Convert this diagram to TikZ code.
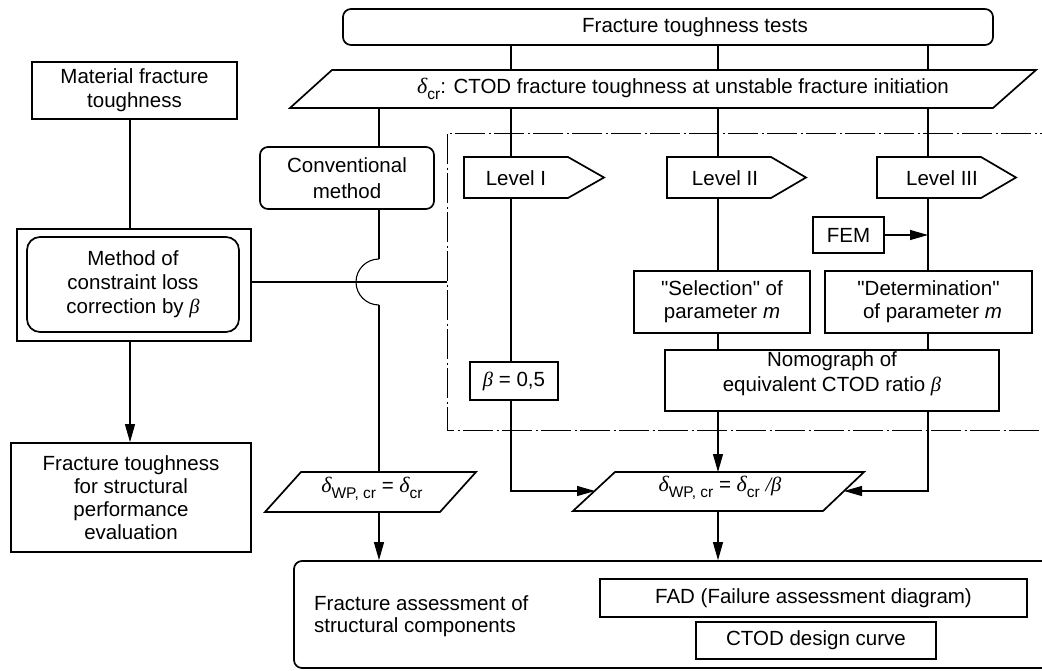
\documentclass[tikz,border=0pt]{standalone}
\usepackage{fontspec}
\setmainfont{Liberation Sans}
\newfontfamily\grkfont{Liberation Serif}
\newfontfamily\plainfont{Liberation Sans}
\usetikzlibrary{arrows.meta,backgrounds}
\newcommand\mydelta{{\grkfont\itshape\fontsize{22}{24}\selectfont δ}}
\newcommand\mybeta{{\grkfont\itshape β}}
\newcommand\mysub[1]{\raisebox{-6.5pt}{\fontsize{15.5}{16}\selectfont #1}}
\newcommand\dq{{\plainfont"}}
\begin{document}
\begin{tikzpicture}[x=1pt,y=-1pt,
  every node/.style={font=\fontsize{20.5}{24}\selectfont, inner sep=0pt, align=center},
  box/.style={draw, line width=1.7pt, fill=white},
  rbox/.style={box, rounded corners=8pt},
  shp/.style={draw, line width=1.7pt, fill=white, line join=miter},
  conn/.style={line width=1.1pt},
  arr/.style={conn, -{Triangle[length=18pt,width=10pt]}},
  dd/.style={line width=1pt, dash pattern=on 30pt off 3.5pt on 2pt off 3.5pt}
]
\useasboundingbox (0,0) rectangle (1042,670);
\begin{scope}
\clip (0,0) rectangle (1042,670);
% dash-dot frame
\draw[dd] (1070,133) -- (447,133) -- (447,430) -- (1070,430);
% top
\node[rbox, minimum width=650pt, minimum height=36pt] (tests) at (668,27) {\hspace*{54pt}Fracture toughness tests};
\path[shp] (332,70) -- (1036,70) -- (993,108) -- (290,108) -- cycle;
\node (crit) at (683,89) {\mydelta\mysub{cr}: CTOD fracture toughness at unstable fracture initiation};
% left column
\node[box, minimum width=205pt, minimum height=57pt] (mat) at (134.5,90.5) {Material fracture\\toughness};
\node[box, minimum width=234pt, minimum height=112pt] (meth) at (134,285) {};
\node[rbox, rounded corners=13pt, minimum width=212pt, minimum height=95pt, font=\fontsize{20.5}{24}\selectfont] (methin) at (133,284.5) {Method of\\constraint loss\\correction by \mybeta};
\node[box, minimum width=240pt, minimum height=109pt, font=\fontsize{20.5}{23}\selectfont] (eval) at (131,497.5) {Fracture toughness\\for structural\\performance\\evaluation};
\node[rbox, minimum width=174pt, minimum height=62pt, font=\fontsize{20.5}{26}\selectfont] (conv) at (347,178) {Conventional\\method};
% levels
\path[shp] (464,157) -- (568,157) -- (604,177.5) -- (568,198) -- (464,198) -- cycle;
\node (lvI) at (516,178) {Level I};
\path[shp] (667,157) -- (771,157) -- (806,177.5) -- (771,198) -- (667,198) -- cycle;
\node (lvII) at (725,178) {Level II};
\path[shp] (877,157) -- (981,157) -- (1016,177.5) -- (981,198) -- (877,198) -- cycle;
\node (lvIII) at (942,178) {Level III};
\node[box, minimum width=71pt, minimum height=36pt] (fem) at (848.5,235) {FEM};
\node[box, minimum width=176pt, minimum height=62pt, font=\fontsize{20.5}{23}\selectfont] (sel) at (722,302) {\dq Selection\dq\ of\\parameter \textit{m}};
\node[box, minimum width=207pt, minimum height=62pt, font=\fontsize{20.5}{23}\selectfont] (det) at (928.5,302) {\dq Determination\dq\\\hspace*{8pt}of parameter \textit{m}};
\node[box, minimum width=334pt, minimum height=61pt, font=\fontsize{20.5}{25}\selectfont] (nomo) at (832,380.5) {Nomograph of\\equivalent CTOD ratio \mybeta\\[-8pt]};
\node[box, minimum width=88pt, minimum height=38pt] (beta) at (514,381) {\mybeta\ = 0,5};
% result parallelograms
\path[shp] (301,472) -- (476,472) -- (440,512) -- (265,512) -- cycle;
\node (wpl) at (372,489) {\mydelta\mysub{WP, cr} = \mydelta\mysub{cr}};
\path[shp] (615,472) -- (864,472) -- (823,511) -- (573,511) -- cycle;
\node (wpr) at (720,488) {\mydelta\mysub{WP, cr} = \mydelta\mysub{cr} {\grkfont\itshape /β}};
% bottom
\node[rbox, minimum width=766pt, minimum height=107pt] (bot) at (677,614.5) {};
\node[anchor=west, align=left, font=\fontsize{20.5}{22}\selectfont] (fa) at (314,616) {Fracture assessment of\\structural components};
\node[box, minimum width=427pt, minimum height=38pt] (fad) at (813.5,598) {FAD (Failure assessment diagram)};
\node[box, minimum width=240pt, minimum height=37pt] (ctod) at (816,640.5) {CTOD design curve};
\end{scope}
% connectors
\coordinate (cI) at (511,0);
\coordinate (cII) at (718,0);
\coordinate (cIII) at (928,0);
\coordinate (cC) at (379,0);
\coordinate (cL) at (130,0);
\coordinate (pB) at (0,108);
\coordinate (jy) at (0,282);
\coordinate (ddL) at (447,0);
\coordinate (resW) at (595,491);
\coordinate (resE) at (844,491);
\coordinate (resN) at (718,472);
\coordinate (resS) at (718,511);
\coordinate (wplN) at (379,472);
\coordinate (wplS) at (379,512);
\coordinate (jT) at (379,259);
\coordinate (jB) at (379,305);
\begin{pgfonlayer}{background}
\draw[conn] (tests.south -| cI) -- (beta.north -| cI);
\draw[arr] (beta.south -| cI) |- (resW);
\draw[conn] (tests.south -| cII) -- (sel.north -| cII);
\draw[conn] (sel.south -| cII) -- (nomo.north -| cII);
\draw[arr] (nomo.south -| cII) -- (resN);
\draw[arr] (resS) -- (bot.north -| cII);
\draw[conn] (tests.south -| cIII) -- (det.north -| cIII);
\draw[conn] (det.south -| cIII) -- (nomo.north -| cIII);
\draw[arr] (nomo.south -| cIII) |- (resE);
\draw[arr] (fem.east) -- (fem.east -| cIII);
\draw[conn] (pB -| cC) -- (conv.north -| cC);
\draw[conn] (conv.south -| cC) -- (jT);
\draw[conn] (jT) .. controls (366.3,259) and (356,269.3) .. (356,282) .. controls (356,294.7) and (366.3,305) .. (jB);
\draw[conn] (jB) -- (wplN);
\draw[arr] (wplS) -- (bot.north -| cC);
\draw[conn] (mat.south -| cL) -- (meth.north -| cL);
\draw[arr] (meth.south -| cL) -- (eval.north -| cL);
\draw[conn] (meth.east |- jy) -- (ddL |- jy);
\end{pgfonlayer}
\end{tikzpicture}
\end{document}
